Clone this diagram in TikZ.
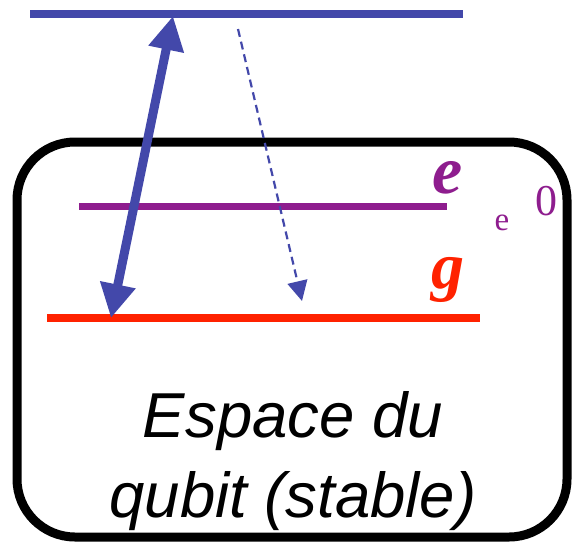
\documentclass[tikz,border=0pt]{standalone}
\usepackage{fontspec}
\setmainfont{Liberation Serif}
\setsansfont{Liberation Sans}
\usetikzlibrary{arrows.meta}
\definecolor{lvblue}{RGB}{67,72,170}
\definecolor{lvpurple}{RGB}{142,29,142}
\definecolor{lvred}{RGB}{255,34,0}
\tikzset{
  level/.style={line width=7.5pt},
  box/.style={line width=9pt, rounded corners=58pt},
  lbl/.style={inner sep=0pt, anchor=base},
  bigarrow/.style={lvblue, line width=9pt, {Triangle[length=34pt,width=34pt]}-{Triangle[length=34pt,width=34pt]}, shorten <=0pt, shorten >=0pt},
  decay/.style={lvblue, line width=2.2pt, dash pattern=on 8pt off 5pt, -{Triangle[length=20pt,width=20pt]}},
}
\begin{document}
\begin{tikzpicture}[x=1pt,y=-1pt]
\useasboundingbox (0,0) rectangle (575,544);
\draw[box] (17,142) rectangle (567,537);
% levels
\coordinate (tl) at (30,14); \coordinate (tr) at (463,14);
\coordinate (el) at (79,206.5); \coordinate (er) at (447,206.5);
\coordinate (gl) at (47,318); \coordinate (gr) at (480,318);
\draw[level, lvblue] (tl) -- (tr);
\draw[level, lvpurple] (el) -- (er);
\draw[level, lvred] (gl) -- (gr);
% arrows
\coordinate (a1) at (173,16);
\coordinate (a2) at (111,318);
\draw[bigarrow] (a2) -- (a1);
\coordinate (d1) at (238,29);
\coordinate (d2) at (302,301);
\draw[decay] (d1) -- (d2);
% labels
\node[lbl, lvpurple] (le) at (448,193) {\fontsize{68}{68}\selectfont\bfseries\itshape e};
\node[lbl, lvpurple] (lsub) at (502,230) {\fontsize{33}{33}\selectfont e};
\node[lbl, lvpurple] (lzero) at (546,215) {\fontsize{44}{44}\selectfont 0};
\node[lbl, lvred] (lg) at (448,288) {\fontsize{66}{66}\selectfont\bfseries\itshape g};
\node[lbl] (t1) at (293,437) {\fontsize{63.5}{80}\selectfont\sffamily\itshape Espace du};
\node[lbl] (t2) at (293,517) {\fontsize{63.5}{80}\selectfont\sffamily\itshape qubit (stable)};
\end{tikzpicture}
\end{document}
